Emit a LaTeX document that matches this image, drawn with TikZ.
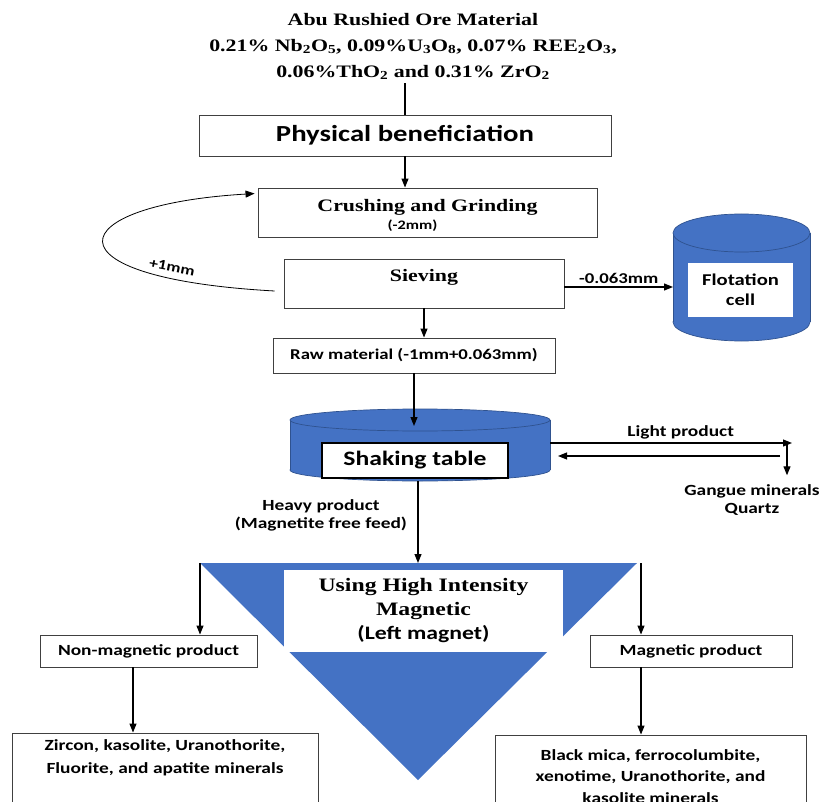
\documentclass[tikz,border=0pt]{standalone}
\usepackage{fontspec}
\setmainfont{Liberation Serif}[FakeStretch=1.25]
\newfontfamily\calb{Carlito}[FakeStretch=1.25]
\usetikzlibrary{arrows.meta}
\definecolor{fillblue}{HTML}{4472C4}
\definecolor{edgeblue}{HTML}{2F528F}
\definecolor{boxline}{HTML}{404040}

\begin{document}
\begin{tikzpicture}[x=1pt,y=-1pt]
        \tikzset{box/.style = {draw=boxline,line width=0.9pt,fill=white,inner sep=0pt,align=center}};
        \tikzset{flow/.style = {line width=1.1pt,-{Triangle[length=9pt,width=7pt]}}};
        \tikzset{lbl/.style = {font=\calb\bfseries\fontsize{15.5}{17.5}\selectfont,align=center}};
        \tikzset{tank/.style = {fill=fillblue,draw=edgeblue,line width=0.7pt}};
        \useasboundingbox (0,0) rectangle (824,802);
        \node[align=center, font=\bfseries\fontsize{17.5}{26}\selectfont] (ore) at (413,46.5)
        {Abu Rushied Ore Material\\
        0.21\% Nb\textsubscript{2}O\textsubscript{5}, 0.09\%U\textsubscript{3}O\textsubscript{8}, 0.07\% REE\textsubscript{2}O\textsubscript{3},\\
        0.06\%ThO\textsubscript{2} and 0.31\% ZrO\textsubscript{2}};
        \node[box, minimum width=412, minimum height=41, font=\calb\bfseries\fontsize{23}{26}\selectfont] (phys) at (405,135.5) {Physical beneficiation};
        \node[box, minimum width=339, minimum height=49, font=\bfseries\fontsize{17.5}{20}\selectfont] (crush) at (427.5,212.5)
        {\raisebox{-4pt}[\height][\depth]{\begin{tabular}{@{}c@{}}Crushing and Grinding\\[-2pt]{\calb\fontsize{13}{15}\selectfont (-2mm)\hspace*{30pt}}\end{tabular}}};
        \node[box, minimum width=280, minimum height=49, font=\bfseries\fontsize{17.5}{20}\selectfont] (sieve) at (424,283.5)
        {\raisebox{6pt}[\height][\depth]{Sieving}};
        \node[box, lbl, minimum width=282, minimum height=35, font=\calb\bfseries\fontsize{15}{17}\selectfont] (raw) at (414,355.5) {Raw material (-1mm+0.063mm)};
        \draw[line width=1.1pt] (ore.south -| phys.north) -- (phys.north);
        \draw[flow] (phys.south) -- (phys.south |- crush.north);
        \draw[flow] (sieve.south) -- (sieve.south |- raw.north);
        \draw[flow, line width=0.8pt] ([xshift=-9pt,yshift=-7.5pt]sieve.west) .. controls (40,278) and (60,205) .. ([xshift=-3pt,yshift=-6pt]crush.north west);
        \node[font=\calb\bfseries\fontsize{14}{16}\selectfont, rotate=-11] (plus) at (172,267) {+1mm};
        % flotation cell
        \filldraw[tank] (741.5,322) ellipse [x radius=68.5, y radius=19];
        \fill[fillblue] (673,233) rectangle (810,322);
        \draw[edgeblue, line width=0.7pt] (673,233) -- (673,322) (810,233) -- (810,322);
        \filldraw[tank] (741.5,233) ellipse [x radius=68.5, y radius=19];
        \node[box, draw=none, minimum width=105, minimum height=54, font=\calb\bfseries\fontsize{16.5}{20}\selectfont] (flot) at (740.5,290) {Flotation\\cell};
        \coordinate (cylL) at (673,287);
        \draw[flow] (sieve.east |- cylL) -- node[lbl, above, font=\calb\bfseries\fontsize{15}{17}\selectfont] (fine) {-0.063mm} (cylL);
        % shaking table
        \filldraw[tank] (420,470) ellipse [x radius=130, y radius=11];
        \fill[fillblue] (290,420) rectangle (550,470);
        \draw[edgeblue, line width=0.7pt] (290,420) -- (290,470) (550,420) -- (550,470);
        \filldraw[tank] (420,420) ellipse [x radius=130, y radius=11];
        \node[box, line width=1.1pt, draw=black, minimum width=186, minimum height=35, font=\calb\bfseries\fontsize{20.5}{22}\selectfont] (shake) at (415,460.5) {Shaking table};
        \coordinate (shaketop) at (413,426);
        \draw[flow] (raw.south) -- (raw.south |- shaketop);
        \coordinate (shakeR) at (550,443);
        \coordinate (lightR) at (792,443);
        \coordinate (backR) at (780,456);
        \coordinate (backL) at (558,456);
        \draw[flow] (shakeR) -- node[lbl, above, pos=0.54] (light) {Light product} (lightR);
        \draw[flow] (backR) -- (backL);
        \node[lbl] (gangue) at (752,500) {Gangue minerals\\Quartz};
        \draw[flow] ([xshift=-5pt]lightR) -- ([xshift=-5pt,yshift=6pt]lightR |- gangue.north);
        \node[lbl] (heavy) at (321,515.5) {Heavy product\\(Magnetite free feed)};
        % magnetic separation
        \coordinate (triL) at (200,563);
        \coordinate (triR) at (641,563);
        \coordinate (triTop) at (418,563);
        \coordinate (shakeB) at (418,481);
        \fill[fillblue] (triL) -- (637,563) -- (418,780) -- cycle;
        \draw[flow] (shakeB) -- (triTop);
        \node[box, draw=none, minimum width=279, minimum height=82, font=\bfseries\fontsize{19}{24}\selectfont] (magnet) at (423.5,611)
        {Using High Intensity\\Magnetic\\{\calb\fontsize{19}{23}\selectfont (Left magnet)}};
        \node[box, lbl, minimum width=217, minimum height=32] (nonmag) at (148.5,651) {Non-magnetic product};
        \node[box, lbl, minimum width=202, minimum height=32] (mag) at (691,651) {Magnetic product};
        \draw[flow] (triL) -- (triL |- nonmag.north);
        \draw[flow] (triR) -- (triR |- mag.north);
        \node[box, lbl, minimum width=306, minimum height=70, font=\calb\bfseries\fontsize{15.5}{23}\selectfont] (zircon) at (165,768)
        {Zircon, kasolite, Uranothorite,\\Fluorite, and apatite minerals\\\mbox{}};
        \node[box, lbl, minimum width=311, minimum height=83, font=\calb\bfseries\fontsize{15.5}{21.5}\selectfont] (mica) at (650.5,776.5)
        {Black mica, ferrocolumbite,\\xenotime, Uranothorite, and\\kasolite minerals};
        \draw[flow] ([xshift=-15.5pt]nonmag.south) -- ([xshift=-15.5pt]nonmag.south |- zircon.north);
        \draw[flow] (triR |- mag.south) -- (triR |- mica.north);
\end{tikzpicture}
\end{document}
